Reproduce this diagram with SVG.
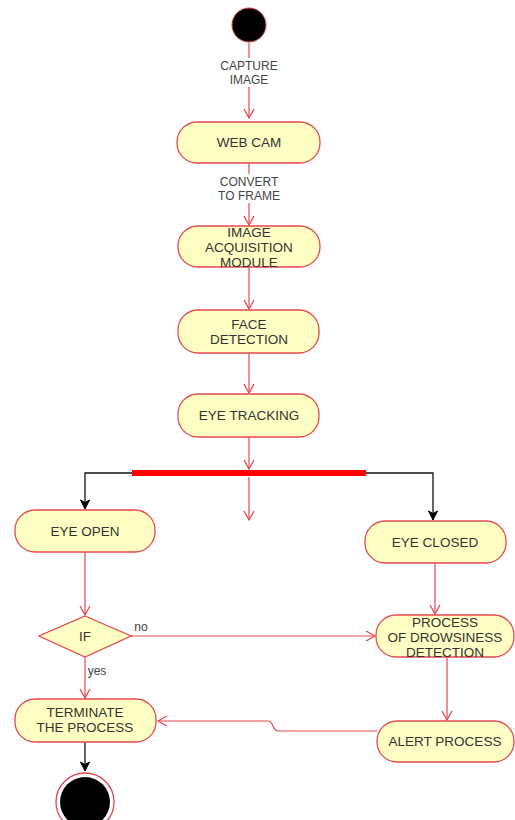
<svg xmlns="http://www.w3.org/2000/svg" width="515" height="820" viewBox="0 0 515 820">
<defs>
<marker id="ar" markerWidth="12" markerHeight="12" refX="10" refY="6" orient="auto" markerUnits="userSpaceOnUse">
<path d="M1,1 L10,6 L1,11" fill="none" stroke="#e8474f" stroke-width="1.3"/>
</marker>
<marker id="ab" markerWidth="12" markerHeight="12" refX="10" refY="6" orient="auto" markerUnits="userSpaceOnUse">
<path d="M1,1.5 L10,6 L1,10.5 L3.5,6 Z" fill="#000" stroke="#000" stroke-width="1"/>
</marker>
</defs>
<style>
.n rect,.n polygon{fill:#ffffc4;stroke:#e8474f;stroke-width:1.3}
text{font-family:"Liberation Sans",Arial,sans-serif;font-size:13.5px;fill:#333;text-anchor:middle}
.lb{font-size:12px;fill:#444}
.r{stroke:#e8474f;stroke-width:1.2;fill:none}
.k{stroke:#111;stroke-width:1.3;fill:none}
</style>
<rect width="515" height="820" fill="#fff"/>
<g id="connectors">
<path class="r" d="M249,43 V118" marker-end="url(#ar)"/>
<path class="r" d="M249,163 V225" marker-end="url(#ar)"/>
<path class="r" d="M249,267 V309" marker-end="url(#ar)"/>
<path class="r" d="M249,353 V393" marker-end="url(#ar)"/>
<path class="r" d="M249,437 V469" marker-end="url(#ar)"/>
<path class="r" d="M249,477 V520" marker-end="url(#ar)"/>
<path class="k" d="M132,473 H85 V509" marker-end="url(#ab)"/>
<path class="k" d="M366,473 H433 V520" marker-end="url(#ab)"/>
<path class="r" d="M85,552 V615" marker-end="url(#ar)"/>
<path class="r" d="M131,636 H375" marker-end="url(#ar)"/>
<path class="r" d="M435,563 V614" marker-end="url(#ar)"/>
<path class="r" d="M447,657 V720" marker-end="url(#ar)"/>
<path class="r" d="M85,657 V698" marker-end="url(#ar)"/>
<path class="r" d="M377,731 H278 C272,731 274,721 268,721 H158" marker-end="url(#ar)"/>
<path class="k" d="M85,742 V771" marker-end="url(#ab)"/>
<rect x="132" y="470" width="234" height="6" fill="#f00"/>
<rect x="215" y="58" width="68" height="29" fill="#fff"/>
<text class="lb" x="249" y="70">CAPTURE</text>
<text class="lb" x="249" y="84">IMAGE</text>
<rect x="210" y="174" width="78" height="29" fill="#fff"/>
<text class="lb" x="249" y="186">CONVERT</text>
<text class="lb" x="249" y="200">TO FRAME</text>
<text class="lb" x="141" y="631">no</text>
<text class="lb" x="97" y="675">yes</text>
</g>
<g id="start"><circle cx="249" cy="25" r="17" fill="#000" stroke="#e8474f" stroke-width="1"/></g>
<g id="webcam" class="n"><rect x="177" y="122" width="143" height="41" rx="20"/><text x="249" y="147">WEB CAM</text></g>
<g id="acq" class="n"><rect x="178" y="226" width="142" height="41" rx="20"/><text x="249" y="237">IMAGE</text><text x="249" y="252">ACQUISITION</text><text x="249" y="267">MODULE</text></g>
<g id="face" class="n"><rect x="178" y="310" width="141" height="43" rx="20"/><text x="249" y="329">FACE</text><text x="249" y="344">DETECTION</text></g>
<g id="eyetrack" class="n"><rect x="178" y="394" width="141" height="43" rx="20"/><text x="249" y="420">EYE TRACKING</text></g>
<g id="eyeopen" class="n"><rect x="15" y="510" width="140" height="42" rx="20"/><text x="85" y="536">EYE OPEN</text></g>
<g id="eyeclosed" class="n"><rect x="365" y="521" width="141" height="42" rx="20"/><text x="435" y="547">EYE CLOSED</text></g>
<g id="if" class="n"><polygon points="85,616 131,636 85,657 39,636"/><text x="85" y="641">IF</text></g>
<g id="drowsy" class="n"><rect x="376" y="615" width="138" height="42" rx="20"/><text x="445" y="627">PROCESS</text><text x="445" y="642">OF DROWSINESS</text><text x="445" y="657">DETECTION</text></g>
<g id="alert" class="n"><rect x="377" y="721" width="137" height="41" rx="20"/><text x="445" y="746">ALERT PROCESS</text></g>
<g id="terminate" class="n"><rect x="15" y="699" width="141" height="43" rx="20"/><text x="85" y="717">TERMINATE</text><text x="85" y="732">THE PROCESS</text></g>
<g id="end"><circle cx="85" cy="802" r="29" fill="#fff" stroke="#e8474f" stroke-width="1.3"/><circle cx="85" cy="802" r="25" fill="#000"/></g>
</svg>
